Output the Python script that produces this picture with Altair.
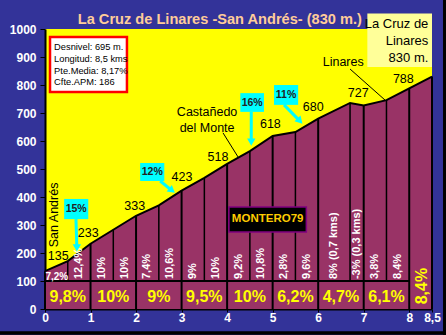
import altair as alt
import pandas as pd

# ---------------- data ----------------
km = [0, 0.5, 1, 1.5, 2, 2.5, 3, 3.5, 4, 4.5, 5, 5.5, 6, 6.7, 7, 7.5, 8, 8.5]
alt_m = [135, 171, 233, 283, 333, 370, 423, 468, 518, 564, 618, 632, 680, 736, 727, 746, 788, 830]

seg_labels = ["7,2%", "12,4%", "10%", "10%", "7,4%", "10,6%", "9%", "10%", "9,2%",
              "10,8%", "2,8%", "9,6%", "8% (0,7 kms)", "-3% (0,3 kms)", "3,8%", "8,4%"]
km_grad_labels = ["9,8%", "10%", "9%", "9,5%", "10%", "6,2%", "4,7%", "6,1%", "8,4%"]

x_ticks = [0, 1, 2, 3, 4, 5, 6, 7, 8, 8.5]
y_ticks = [0, 100, 200, 300, 400, 500, 600, 700, 800, 900, 1000]

# elevation labels (text, placement in km / metres)
elev_text = ["135", "233", "333", "423", "518", "618", "680", "727", "788"]
elev_lx = [0.29, 0.95, 1.97, 3.01, 3.80, 4.95, 5.89, 6.88, 7.87]
elev_ly = [189, 271, 368, 471, 543, 661, 721, 771, 821]

# gradient callouts
call_text = ["15%", "12%", "16%", "11%"]
call_x1 = [0.42, 2.09, 4.29, 5.03]
call_x2 = [0.95, 2.62, 4.81, 5.56]
call_y1 = [321, 457, 704, 729]
call_y2 = [393, 521, 771, 800]
arr_x1 = [0.68, 2.53, 4.53, 5.25]
arr_y1 = [321, 457, 704, 729]
arr_x2 = [0.70, 2.79, 4.53, 5.60]
arr_y2 = [218, 423, 596, 671]
arr_angle = [180, 129, 180, 137]

info_lines = ["Desnivel: 695 m.", "Longitud: 8,5 kms", "Pte.Media: 8,17%", "Cfte.APM: 186"]
info_ly = [936, 893, 850, 811]

summit_lines = ["La Cruz de", "Linares", "830 m."]
summit_ly = [1018, 958, 898]

TITLE = "La Cruz de Linares -San Andrés- (830 m.)"

# ---------------- styling ----------------
PURPLE = "#993366"
BLUE = "#333399"
YELLOW = "#FFFF00"
FONT = "Liberation Sans"

XS = alt.Scale(domain=[0, 8.5], nice=False, zero=False)
YS = alt.Scale(domain=[0, 1000], nice=False, zero=False)

XAX = alt.Axis(values=x_ticks, labelExpr="replace(toString(datum.value), '.', ',')",
               labelColor="white", labelFont=FONT, labelFontSize=12, labelFontWeight="bold",
               domainColor="black", domainWidth=2, tickColor="black", tickSize=3,
               labelPadding=0, grid=False, labelFlush=False, title=None)
YAX = alt.Axis(values=y_ticks, labelExpr="toString(datum.value)",
               labelColor="white", labelFont=FONT, labelFontSize=12,
               labelFontWeight="bold", domainColor="black", domainWidth=2,
               tickColor="black", tickSize=5, labelPadding=4, grid=False, title=None)


def X(f):
    return alt.X(f, type="quantitative", scale=XS, axis=XAX, title=None)


def Y(f):
    return alt.Y(f, type="quantitative", scale=YS, axis=YAX, title=None)


prof = pd.DataFrame({"km": km, "m": alt_m, "base": 0})

area = alt.Chart(prof).mark_area(color=PURPLE, opacity=1).encode(
    x=X("km"), y=Y("m"), y2=alt.datum(0))

line = alt.Chart(prof).mark_line(color="black", strokeWidth=2).encode(x=X("km"), y=Y("m"))

# vertical separators
km_rows = [(k, m) for k, m in zip(km, alt_m) if float(k).is_integer() or k == 8.5]
half_rows = [(k, m) for k, m in zip(km, alt_m) if not (float(k).is_integer() or k == 8.5)]
km_df = pd.DataFrame({"km": [r[0] for r in km_rows], "m": [r[1] for r in km_rows], "base": 0})
half_df = pd.DataFrame({"km": [r[0] for r in half_rows], "m": [r[1] for r in half_rows], "base": 100})

km_lines = alt.Chart(km_df).mark_rule(color="black", strokeWidth=2).encode(
    x=X("km"), y=Y("m"), y2="base:Q")
half_lines = alt.Chart(half_df).mark_rule(color="black", strokeWidth=1.5).encode(
    x=X("km"), y=Y("m"), y2="base:Q")

band_df = pd.DataFrame({"x1": [0], "x2": [8], "y": [100]})
band_line = alt.Chart(band_df).mark_rule(color="black", strokeWidth=2).encode(
    x=X("x1"), x2="x2:Q", y=Y("y"))

# sub-segment gradient labels
mids = [(km[i] + km[i + 1]) / 2 for i in range(len(seg_labels))]
seg_df = pd.DataFrame({"x": mids[1:], "t": seg_labels[1:], "y": 107})
seg_text = alt.Chart(seg_df).mark_text(
    angle=270, align="left", baseline="middle", color="white", font=FONT,
    fontSize=11, fontWeight="bold").encode(x=X("x"), y=Y("y"), text="t:N")
seg0_df = pd.DataFrame({"x": [mids[0] + 0.01], "t": [seg_labels[0]], "y": [115]})
seg0_text = alt.Chart(seg0_df).mark_text(
    align="center", baseline="middle", color="white", font=FONT,
    fontSize=10, fontWeight="bold").encode(x=X("x"), y=Y("y"), text="t:N")

# per-km gradient labels in the bottom band
kg_df = pd.DataFrame({"x": [i + 0.5 for i in range(8)], "t": km_grad_labels[:8], "y": 43})
kg_text = alt.Chart(kg_df).mark_text(
    align="center", baseline="middle", color=YELLOW, font=FONT, fontSize=16,
    fontWeight="bold").encode(x=X("x"), y=Y("y"), text="t:N")
kg_last = alt.Chart(pd.DataFrame({"x": [8.28], "t": [km_grad_labels[8]], "y": [82]})).mark_text(
    angle=270, align="center", baseline="middle", color=YELLOW, font=FONT, fontSize=16,
    fontWeight="bold").encode(x=X("x"), y=Y("y"), text="t:N")

# elevation labels
el_df = pd.DataFrame({"x": elev_lx, "y": elev_ly, "t": elev_text})
el_text = alt.Chart(el_df).mark_text(
    align="center", baseline="middle", color="black", font=FONT, fontSize=12.5).encode(
    x=X("x"), y=Y("y"), text="t:N")

# callouts
cb_df = pd.DataFrame({"x1": call_x1, "x2": call_x2, "y1": call_y1, "y2": call_y2,
                      "t": call_text,
                      "cx": [(a + b) / 2 for a, b in zip(call_x1, call_x2)],
                      "cy": [(a + b) / 2 for a, b in zip(call_y1, call_y2)],
                      "ax1": arr_x1, "ay1": arr_y1, "ax2": arr_x2, "ay2": arr_y2,
                      "ang": arr_angle})
cb_rect = alt.Chart(cb_df).mark_rect(color="#00FFFF").encode(
    x=X("x1"), x2="x2:Q", y=Y("y1"), y2="y2:Q")
cb_txt = alt.Chart(cb_df).mark_text(
    color="#222222", font=FONT, fontSize=10.5, fontWeight="bold", baseline="middle").encode(
    x=X("cx"), y=Y("cy"), text="t:N")
cb_shaft = alt.Chart(cb_df).mark_rule(color="#00FFFF", strokeWidth=3).encode(
    x=X("ax1"), x2="ax2:Q", y=Y("ay1"), y2="ay2:Q")
cb_head = alt.Chart(cb_df).mark_point(shape="triangle-up", filled=True, color="#00FFFF",
                                      opacity=1, size=70).encode(
    x=X("ax2"), y=Y("ay2"), angle=alt.Angle("ang:Q", scale=None))

# place names with leader lines
names_df = pd.DataFrame({"x": [3.56, 3.56, 6.55], "y": [704, 646, 882],
                         "t": ["Castañedo", "del Monte", "Linares"]})
names_txt = alt.Chart(names_df).mark_text(
    color="black", font=FONT, fontSize=12.5, baseline="middle").encode(
    x=X("x"), y=Y("y"), text="t:N")
lead_df = pd.DataFrame({"x1": [3.91, 6.70], "y1": [629, 857], "x2": [4.24, 7.47], "y2": [543, 746]})
leaders = alt.Chart(lead_df).mark_rule(color="black", strokeWidth=1).encode(
    x=X("x1"), x2="x2:Q", y=Y("y1"), y2="y2:Q")
san = alt.Chart(pd.DataFrame({"x": [0.2], "y": [336], "t": ["San Andrés"]})).mark_text(
    angle=270, color="black", font=FONT, fontSize=12.5, baseline="middle", align="center").encode(
    x=X("x"), y=Y("y"), text="t:N")

# MONTERO79 stamp
mont_rect = alt.Chart(pd.DataFrame({"x1": [4.04], "x2": [5.74], "y1": [275], "y2": [364]})).mark_rect(
    color="black", stroke="#800080", strokeWidth=1.5).encode(
    x=X("x1"), x2="x2:Q", y=Y("y1"), y2="y2:Q")
mont_txt = alt.Chart(pd.DataFrame({"x": [4.89], "y": [321], "t": ["MONTERO79"]})).mark_text(
    color="#FFCC00", font=FONT, fontSize=11.5, fontWeight="bold", baseline="middle").encode(
    x=X("x"), y=Y("y"), text="t:N")

# info box
info_rect = alt.Chart(pd.DataFrame({"x1": [0.11], "x2": [1.80], "y1": [775], "y2": [971]})).mark_rect(
    color="white", stroke="#FF0000", strokeWidth=2.5).encode(
    x=X("x1"), x2="x2:Q", y=Y("y1"), y2="y2:Q")
info_txt = alt.Chart(pd.DataFrame({"x": [0.2] * 4, "y": info_ly, "t": info_lines})).mark_text(
    color="black", font=FONT, fontSize=9.3, align="left", baseline="middle").encode(
    x=X("x"), y=Y("y"), text="t:N")

# summit box
sum_rect = alt.Chart(pd.DataFrame({"x1": [7.08], "x2": [8.5], "y1": [864], "y2": [1055]})).mark_rect(
    color="#FFFF99").encode(x=X("x1"), x2="x2:Q", y=Y("y1"), y2="y2:Q")
sum_txt = alt.Chart(pd.DataFrame({"x": [8.42] * 3, "y": summit_ly, "t": summit_lines})).mark_text(
    color="black", font=FONT, fontSize=13, align="right", baseline="middle").encode(
    x=X("x"), y=Y("y"), text="t:N")

# title
title_txt = alt.Chart(pd.DataFrame({"x": [3.84], "y": [1032], "t": [TITLE]})).mark_text(
    color="#FFCC99", font=FONT, fontSize=14.6, fontWeight="bold", baseline="middle").encode(
    x=X("x"), y=Y("y"), text="t:N")

# dark frame at right and bottom edges
frame_df = pd.DataFrame({"x1": [8.78, -1.0], "x2": [8.78, 8.8], "y1": [-100, -86], "y2": [1110, -86]})
frame = alt.Chart(frame_df).mark_rule(color="black", strokeWidth=3.5).encode(
    x=X("x1"), x2="x2:Q", y=Y("y1"), y2="y2:Q")

chart = alt.layer(
    area, half_lines, km_lines, band_line, line,
    seg_text, seg0_text, kg_text, kg_last, el_text,
    cb_shaft, cb_head, cb_rect, cb_txt,
    leaders, names_txt, san,
    mont_rect, mont_txt, info_rect, info_txt,
    title_txt, sum_rect, sum_txt, frame,
).properties(
    width=387, height=280,
    autosize=alt.AutoSizeParams(type="none"),
    padding={"left": 45, "top": 29, "right": 14, "bottom": 26},
    background=BLUE,
).configure_view(fill=YELLOW, stroke=None)

chart.save("out.html", embed_options={"renderer": "svg", "actions": False})
